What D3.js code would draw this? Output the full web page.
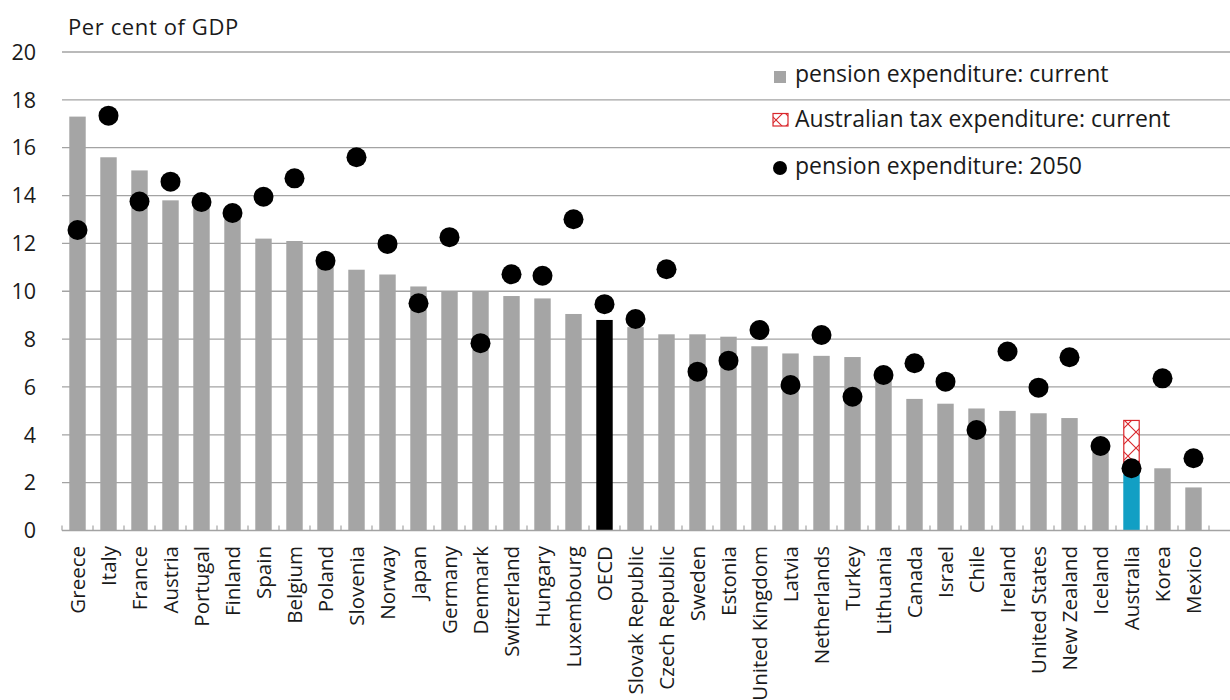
<!DOCTYPE html>
<html>
<head>
<meta charset="utf-8">
<script src="https://cdn.jsdelivr.net/npm/d3@7"></script>
<style>
  html, body { margin: 0; padding: 0; background: #fff; }
  svg { display: block; font-family: "Open Sans", "Noto Sans", sans-serif; }
</style>
</head>
<body>
<svg id="chart" width="1230" height="700"></svg>
<script>
// Countries, ordered by current public pension expenditure
const countries = [
  "Greece", "Italy", "France", "Austria", "Portugal", "Finland", "Spain", "Belgium",
  "Poland", "Slovenia", "Norway", "Japan", "Germany", "Denmark", "Switzerland",
  "Hungary", "Luxembourg", "OECD", "Slovak Republic", "Czech Republic", "Sweden",
  "Estonia", "United Kingdom", "Latvia", "Netherlands", "Turkey", "Lithuania",
  "Canada", "Israel", "Chile", "Ireland", "United States", "New Zealand", "Iceland",
  "Australia", "Korea", "Mexico"
];

// Pension expenditure, current (per cent of GDP)
const currentExpenditure = [
  17.3, 15.6, 15.05, 13.8, 13.6, 13.1, 12.2, 12.1, 11.1, 10.9, 10.7, 10.2, 10.0,
  10.0, 9.8, 9.7, 9.05, 8.8, 8.5, 8.2, 8.2, 8.1, 7.7, 7.4, 7.3, 7.25, 6.3, 5.5,
  5.3, 5.1, 5.0, 4.9, 4.7, 3.3, 2.4, 2.6, 1.8
];

// Pension expenditure projected for 2050 (per cent of GDP)
const expenditure2050 = [
  12.56, 17.34, 13.75, 14.58, 13.73, 13.27, 13.95, 14.72, 11.27, 15.6, 11.98, 9.5,
  12.26, 7.83, 10.71, 10.65, 13.01, 9.46, 8.84, 10.92, 6.64, 7.1, 8.38, 6.08, 8.17,
  5.59, 6.5, 6.99, 6.22, 4.2, 7.48, 5.97, 7.24, 3.53, 2.6, 6.36, 3.02
];

// Australian superannuation tax concessions, stacked on current spending
const taxCountries = ["Australia"];
const taxExpenditure = [2.2];

const yTicks = [0, 2, 4, 6, 8, 10, 12, 14, 16, 18, 20];

const legendLabels = [
  "pension expenditure: current",
  "Australian tax expenditure: current",
  "pension expenditure: 2050"
];

const GREY = "#a5a5a5";
const GRID = "#a3a3a3";
const RED = "#d9262b";
const TEXT = "#1a1a1a";
const barColour = c => c === "OECD" ? "#000000" : c === "Australia" ? "#129fc4" : GREY;

const svg = d3.select("#chart");
const plotLeft = 62, plotRight = 1209, plotTop = 52, plotBottom = 530.5;

const x = d3.scaleBand().domain(countries).range([plotLeft, plotRight]).paddingInner(0.47).paddingOuter(0.235);
const band = d3.scaleBand().domain(countries).range([plotLeft, plotRight]);
const y = d3.scaleLinear().domain([0, 20]).range([plotBottom, plotTop]);

// Cross-hatch pattern for the tax expenditure segment
const defs = svg.append("defs");
const pat = defs.append("pattern")
  .attr("id", "hatch").attr("patternUnits", "userSpaceOnUse")
  .attr("width", 16).attr("height", 16);
pat.append("rect").attr("width", 16).attr("height", 16).attr("fill", "#fff");
pat.append("path").attr("d", "M0,0L16,16M16,0L0,16")
  .attr("stroke", RED).attr("stroke-width", 1.1).attr("fill", "none");

// Gridlines
svg.append("g").selectAll("line").data(yTicks.filter(t => t > 0)).join("line")
  .attr("x1", plotLeft).attr("x2", 1230)
  .attr("y1", d => y(d)).attr("y2", d => y(d))
  .attr("stroke", GRID).attr("stroke-width", 1.3);

// Y tick labels
svg.append("g").selectAll("text").data(yTicks).join("text")
  .attr("x", 36).attr("y", d => y(d)).attr("dy", "0.36em")
  .attr("text-anchor", "end").attr("font-size", 21.5).attr("fill", TEXT)
  .text(d => d);

// Axis title
svg.append("text").attr("x", 68).attr("y", 35).attr("font-size", 22)
  .attr("letter-spacing", 0.6).attr("fill", TEXT).text("Per cent of GDP");

// Current expenditure bars
const rows = countries.map((c, i) => ({ c, cur: currentExpenditure[i], fut: expenditure2050[i] }));
svg.append("g").selectAll("rect").data(rows).join("rect")
  .attr("x", d => x(d.c)).attr("width", x.bandwidth())
  .attr("y", d => y(d.cur)).attr("height", d => y(0) - y(d.cur))
  .attr("fill", d => barColour(d.c));

// Tax expenditure segment stacked on top
const taxRows = taxCountries.map((c, i) => ({
  c, base: currentExpenditure[countries.indexOf(c)], val: taxExpenditure[i]
}));
svg.append("g").selectAll("rect").data(taxRows).join("rect")
  .attr("x", d => x(d.c) + 0.5).attr("width", x.bandwidth() - 1)
  .attr("y", d => y(d.base + d.val)).attr("height", d => y(d.base) - y(d.base + d.val))
  .attr("fill", "url(#hatch)").attr("stroke", RED).attr("stroke-width", 1.2);

// Baseline with inside ticks at category boundaries
svg.append("line").attr("x1", plotLeft).attr("x2", 1230).attr("y1", y(0)).attr("y2", y(0))
  .attr("stroke", GRID).attr("stroke-width", 1.3);
const bounds = countries.map(c => band(c)).concat([plotRight]);
svg.append("g").selectAll("line").data(bounds).join("line")
  .attr("x1", d => d).attr("x2", d => d)
  .attr("y1", y(0)).attr("y2", y(0) - 5)
  .attr("stroke", GRID).attr("stroke-width", 1.2);

// 2050 projection markers
svg.append("g").selectAll("circle").data(rows).join("circle")
  .attr("cx", d => band(d.c) + band.bandwidth() / 2).attr("cy", d => y(d.fut))
  .attr("r", 10).attr("fill", "#000");

// Category labels, rotated
svg.append("g").selectAll("text").data(countries).join("text")
  .attr("transform", d => `translate(${band(d) + band.bandwidth() / 2},546) rotate(-90)`)
  .attr("text-anchor", "end").attr("dy", "0.36em")
  .attr("font-size", 20.5).attr("fill", TEXT)
  .text(d => d);

// Legend
const lg = svg.append("g");
const lx = 795, baseY = [82, 127, 174];
lg.append("rect").attr("x", 774).attr("y", 71).attr("width", 12).attr("height", 12).attr("fill", GREY);
lg.append("rect").attr("x", 773).attr("y", 113.5).attr("width", 15).attr("height", 12.5)
  .attr("fill", "url(#hatch)").attr("stroke", RED).attr("stroke-width", 1.2);
lg.append("circle").attr("cx", 780).attr("cy", 168).attr("r", 7).attr("fill", "#000");
lg.selectAll("text").data(legendLabels).join("text")
  .attr("x", lx).attr("y", (d, i) => baseY[i])
  .attr("font-size", 23).attr("fill", TEXT)
  .text(d => d);
</script>
</body>
</html>
